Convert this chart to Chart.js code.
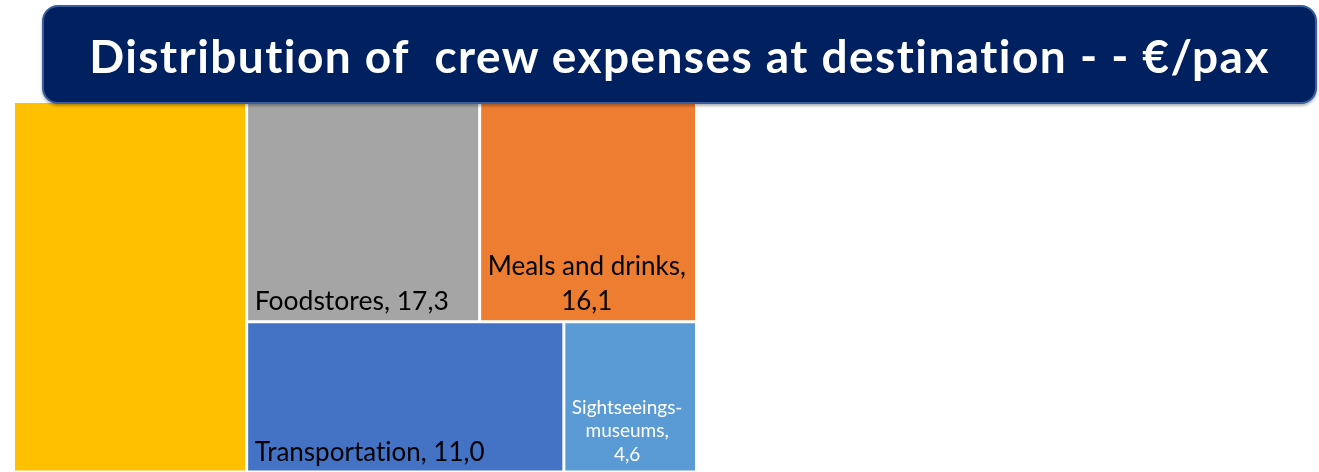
<!DOCTYPE html>
<html>
<head>
<meta charset="utf-8">
<script src="https://cdn.jsdelivr.net/npm/chart.js@4.4.1/dist/chart.umd.min.js"></script>
<style>
  html, body { margin: 0; padding: 0; background: #ffffff; overflow: hidden; width: 1319px; height: 472px; }
  #wrap { position: relative; width: 1319px; height: 472px; overflow: hidden; }
  #chart { position: absolute; left: 0; top: 0; }
  #banner {
    position: absolute; left: 42px; top: 5px; width: 1275px; height: 99px;
    box-sizing: border-box; background: #002060; border: 2px solid #3A5E9E;
    border-radius: 16px; color: #ffffff;
    font-family: Lato, "Open Sans", sans-serif; font-weight: 700; font-size: 46px;
    letter-spacing: 1.45px; font-variant-ligatures: none;
    display: flex; align-items: center; justify-content: center;
    white-space: pre; box-shadow: 0 2px 3px rgba(0,0,0,0.3);
    padding-top: 2px;
  }
</style>
</head>
<body>
<div id="wrap">
  <canvas id="chart" width="1319" height="472"></canvas>
  <div id="banner">Distribution of  crew expenses at destination - - €/pax</div>
</div>
<script>
// ---- data ----
const categories = ["", "Foodstores", "Meals and drinks", "Transportation", "Sightseeings-museums"];
const values = [25.4, 17.3, 16.1, 11.0, 4.6];
const cellColors = ["#FFC000", "#A5A5A5", "#ED7D31", "#4472C4", "#5B9BD5"];
const labelColors = ["#000000", "#000000", "#000000", "#000000", "#FFFFFF"];
const labelSizes = [26, 26.5, 26, 26, 19];
const labelLineHeights = [34, 34, 35, 34, 23.5];

function fmt(v) { return v.toFixed(1).replace('.', ','); }

// squarified layout in data units, aspect judged in pixel space
function squarify(items, rect, sx, sy) {
  const total = items.reduce((a, b) => a + b.v, 0);
  const k = rect.w * rect.h / total;
  const out = [];
  let r = Object.assign({}, rect);
  let rest = items.slice().sort((a, b) => b.v - a.v);
  function worst(row, r, vertical) {
    const sum = row.reduce((a, b) => a + b.v, 0);
    let m = 0;
    if (vertical) {
      const cw = sum * k / r.h;
      row.forEach(it => { const hh = it.v * k / cw; const a = (cw * sx) / (hh * sy); m = Math.max(m, a, 1 / a); });
    } else {
      const rh = sum * k / r.w;
      row.forEach(it => { const ww = it.v * k / rh; const a = (ww * sx) / (rh * sy); m = Math.max(m, a, 1 / a); });
    }
    return m;
  }
  while (rest.length) {
    const vertical = r.w * sx >= r.h * sy;
    let row = [rest[0]];
    let best = worst(row, r, vertical);
    let i = 1;
    while (i < rest.length) {
      const cand = row.concat([rest[i]]);
      const w2 = worst(cand, r, vertical);
      if (w2 <= best) { row = cand; best = w2; i++; } else break;
    }
    const sum = row.reduce((a, b) => a + b.v, 0);
    if (vertical) {
      const cw = sum * k / r.h;
      let yy = r.y;
      row.forEach(it => { const hh = it.v * k / cw; out.push(Object.assign({}, it, { x: r.x, y: yy, w: cw, h: hh })); yy += hh; });
      r = { x: r.x + cw, y: r.y, w: r.w - cw, h: r.h };
    } else {
      const rh = sum * k / r.w;
      let xx = r.x;
      row.forEach(it => { const ww = it.v * k / rh; out.push(Object.assign({}, it, { x: xx, y: r.y, w: ww, h: rh })); xx += ww; });
      r = { x: r.x, y: r.y + rh, w: r.w, h: r.h - rh };
    }
    rest = rest.slice(row.length);
  }
  return out;
}

function wrapText(ctx, text, maxW) {
  const tokens = [];
  text.split(' ').forEach((word, wi) => {
    word.split(/(?<=-)/).forEach((part, pi) => tokens.push({ t: part, sp: wi > 0 && pi === 0 }));
  });
  const lines = [];
  let cur = '';
  tokens.forEach(tok => {
    const cand = cur === '' ? tok.t : cur + (tok.sp ? ' ' : '') + tok.t;
    if (cur !== '' && ctx.measureText(cand).width > maxW) { lines.push(cur); cur = tok.t; }
    else cur = cand;
  });
  if (cur !== '') lines.push(cur);
  return lines;
}

// label = "name, value" on one line if it fits, else wrapped name + value on its own line
function labelLines(ctx, name, value, maxW) {
  const full = name + ', ' + value;
  if (ctx.measureText(full).width <= maxW) return [full];
  return wrapText(ctx, name + ',', maxW).concat([value]);
}

const treemapPlugin = {
  id: 'treemapCells',
  afterDatasetsDraw(chart) {
    const ctx = chart.ctx;
    const area = chart.chartArea;
    const xs = chart.scales.x, ys = chart.scales.y;
    const sx = Math.abs(xs.getPixelForValue(1) - xs.getPixelForValue(0));
    const sy = Math.abs(ys.getPixelForValue(1) - ys.getPixelForValue(0));
    const items = values.map((v, i) => ({ v, i }));
    const cells = squarify(items, { x: 0, y: 0, w: 1, h: 1 }, sx, sy);
    const gap = 1.5;
    ctx.save();
    ctx.beginPath();
    ctx.rect(area.left, area.top, area.right - area.left, area.bottom - area.top + 10);
    ctx.clip();
    cells.forEach(c => {
      const l = xs.getPixelForValue(c.x), r = xs.getPixelForValue(c.x + c.w);
      const t = ys.getPixelForValue(c.y), b = ys.getPixelForValue(c.y + c.h);
      ctx.fillStyle = cellColors[c.i];
      ctx.fillRect(l + gap, t + gap, r - l - 2 * gap, b - t - 2 * gap);
    });
    if ('textRendering' in ctx) ctx.textRendering = 'optimizeSpeed';
    cells.forEach(c => {
      if (!categories[c.i]) return;
      const l = xs.getPixelForValue(c.x), r = xs.getPixelForValue(c.x + c.w);
      const b = ys.getPixelForValue(c.y + c.h);
      const size = labelSizes[c.i];
      ctx.font = size + 'px Lato, "Open Sans", sans-serif';
      ctx.fillStyle = labelColors[c.i];
      ctx.textBaseline = 'alphabetic';
      ctx.textAlign = 'center';
      const pad = 8;
      const lines = labelLines(ctx, categories[c.i], fmt(values[c.i]), r - l - 2 * pad);
      const bw = Math.max(...lines.map(s => ctx.measureText(s).width));
      const cx = l + pad + bw / 2;
      const lh = labelLineHeights[c.i];
      const lastBase = b - 11.5;
      lines.forEach((s, k) => {
        ctx.fillText(s, cx, lastBase - (lines.length - 1 - k) * lh);
      });
    });
    ctx.restore();
  }
};

new Chart(document.getElementById('chart'), {
  type: 'scatter',
  data: { labels: categories, datasets: [{ label: 'crew expenses €/pax', data: [], pointRadius: 0 }] },
  options: {
    responsive: false,
    animation: false,
    layout: { padding: { left: 13.5, right: 622.5, top: 103, bottom: 0 } },
    scales: {
      x: { type: 'linear', min: 0, max: 1, display: false },
      y: { type: 'linear', min: 0.2182, max: 1, reverse: true, display: false }
    },
    plugins: { legend: { display: false }, tooltip: { enabled: false }, title: { display: false } }
  },
  plugins: [treemapPlugin]
});
</script>
</body>
</html>
